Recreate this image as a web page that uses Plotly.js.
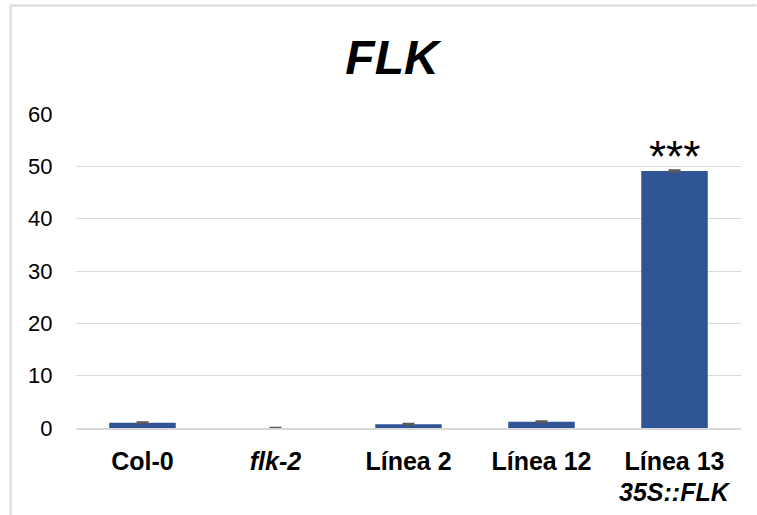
<!DOCTYPE html>
<html>
<head>
<meta charset="utf-8">
<script src="https://cdn.plot.ly/plotly-3.0.1.min.js"></script>
<style>html,body{margin:0;padding:0;background:#fff;}#chart{width:757px;height:515px;}</style>
</head>
<body>
<div id="chart"></div>
<script>
const categories = ["Col-0", "flk-2", "Línea 2", "Línea 12", "Línea 13"];
const tickLabels = ["<b>Col-0</b>", "<b><i>flk-2</i></b>", "<b>Línea 2</b>", "<b>Línea 12</b>", "<b>Línea 13</b>"];
const subLabels = ["", "", "", "", "<b><i>35S::FLK</i></b>"];
const values = [1.0, 0.02, 0.7, 1.2, 49.1];
const errors = [0.1, 0.01, 0.1, 0.1, 0.15];
const significance = ["", "", "", "", "***"];

const trace = {
  type: "bar",
  x: categories,
  y: values,
  marker: {color: "#2f5597", line: {width: 0}},
  error_y: {type: "data", array: errors, visible: true, color: "#595959", thickness: 2, width: 6},
  hoverinfo: "x+y"
};

const font = "Arial, Liberation Sans, sans-serif";
const annotations = categories.map((c, i) => ({
  x: c, y: values[i] + errors[i], text: significance[i], showarrow: false,
  yanchor: "bottom", yshift: -13, font: {family: font, size: 44, color: "#000"}
})).filter(a => a.text).concat(categories.map((c, i) => ({
  x: c, xref: "x", y: 0, yref: "y", text: subLabels[i], showarrow: false,
  yanchor: "middle", yshift: -64, font: {family: font, size: 25, color: "#000"}
})).filter(a => a.text));

const layout = {
  width: 757, height: 515,
  margin: {l: 75.5, r: 15.5, t: 114, b: 87},
  paper_bgcolor: "#fff", plot_bgcolor: "#fff",
  font: {family: font, color: "#000"},
  title: {text: "<b><i>FLK</i></b>", x: 392 / 757, xref: "container", xanchor: "center",
          y: 1 - 57 / 515, yref: "container", yanchor: "middle",
          font: {family: font, size: 48, color: "#000"}},
  bargap: 0.5,
  showlegend: false,
  xaxis: {
    tickvals: categories, ticktext: tickLabels,
    tickfont: {size: 25, color: "#000"},
    showline: true, linecolor: "#d9d9d9", linewidth: 1.5,
    ticks: "outside", ticklen: 10, tickcolor: "rgba(0,0,0,0)",
    showgrid: false, fixedrange: true
  },
  yaxis: {
    range: [0, 60], dtick: 10, tick0: 0,
    tickfont: {size: 22, color: "#000"},
    showgrid: true, gridcolor: "#d9d9d9", gridwidth: 1,
    zeroline: false, showline: false,
    ticks: "outside", ticklen: 18, tickcolor: "rgba(0,0,0,0)",
    fixedrange: true
  },
  annotations: annotations,
  shapes: [
    {type: "line", xref: "paper", yref: "paper", x0: (9.5 - 75.5) / 666, x1: (757 - 75.5) / 666,
     y0: (428 - 5.5) / 314, y1: (428 - 5.5) / 314, line: {color: "#d9d9d9", width: 2}},
    {type: "line", xref: "paper", yref: "paper", x0: (10 - 75.5) / 666, x1: (10 - 75.5) / 666,
     y0: (428 - 5) / 314, y1: (428 - 520) / 314, line: {color: "#d9d9d9", width: 2}}
  ]
};

Plotly.newPlot("chart", [trace], layout, {displayModeBar: false, staticPlot: true});
</script>
</body>
</html>
